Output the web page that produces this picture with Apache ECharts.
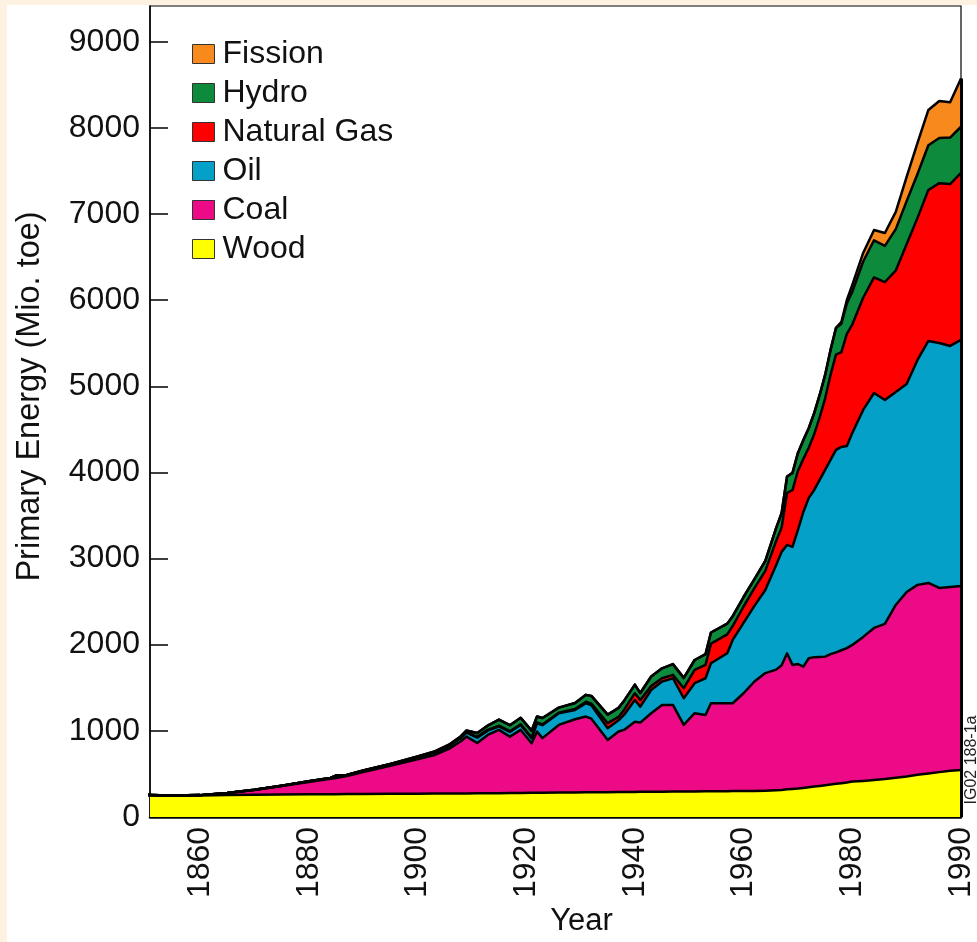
<!DOCTYPE html>
<html>
<head>
<meta charset="utf-8">
<title>Primary Energy</title>
<script src="https://cdn.jsdelivr.net/npm/echarts@6/dist/echarts.min.js"></script>
<style>
  html, body { margin: 0; padding: 0; background: #ffffff; }
  #chart { width: 977px; height: 942px; }
</style>
</head>
<body>
<div id="chart"></div>
<script>
// World primary energy by source, Mio. toe
const years = [1850,1855,1860,1865,1870,1875,1880,1884,1885,1887,
  1890,1895,1900,1903,1906,1908,1909,1911,1913,1915,
  1917,1919,1921,1922,1923,1926,1929,1931,1932,1935,
  1937,1938,1940,1941,1943,1945,1947,1949,1951,1953,
  1954,1957,1958,1960,1962,1964,1966,1967,1968,1969,
  1970,1971,1972,1973,1974,1975,1976,1977,1978,1979,
  1980,1981,1982,1983,1984,1985,1986,1987,1988,1989,1990];

const wood = [255,250,250,255,258,260,262,263,264,265,
  266,268,270,271,272,273,273,274,275,276,
  277,278,280,280,281,282,284,285,286,287,
  288,289,290,291,292,293,294,295,296,297,
  298,299,300,300,302,305,310,312,320,325,
  330,337,345,352,360,368,376,384,392,400,
  410,418,428,440,455,470,490,505,520,535,545];

const coal = [0,0,3,22,55,98,144,180,188,210,
  256,325,400,445,525,605,659,585,680,734,
  655,732,575,710,634,786,850,880,855,607,
  703,721,816,804,912,1007,1006,773,908,887,
  1022,1021,1020,1136,1270,1365,1400,1448,1580,1440,
  1445,1408,1497,1503,1498,1493,1514,1526,1543,1560,
  1587,1672,1766,1801,2006,2142,2204,2212,2139,2135,2137];

const oil = [0,0,0,0,2,4,8,10,28,12,
  14,18,22,28,32,38,47,62,50,40,
  55,58,59,98,150,136,108,156,154,136,
  130,174,252,185,270,271,310,310,348,426,
  464,580,735,816,878,965,1216,1317,1258,1370,
  1557,1796,1862,1941,2055,2168,2255,2351,2361,2347,
  2461,2635,2728,2600,2473,2415,2612,2809,2844,2798,2856];

const gas = [0,0,0,0,0,0,0,0,0,0,
  0,1,3,4,5,6,6,8,8,10,
  8,8,8,8,8,5,10,16,20,58,
  40,58,78,78,46,39,39,116,155,155,
  227,219,161,191,206,222,279,282,604,659,
  684,616,582,649,726,828,987,1106,1101,1300,
  1259,1303,1343,1369,1410,1623,1649,1752,1855,1880,1940];

const hydro = [0,0,0,0,0,0,0,0,0,0,
  2,4,6,8,12,15,18,45,50,70,
  70,75,80,70,75,60,70,80,90,100,
  105,105,100,80,110,115,125,120,115,125,
  130,125,115,110,105,115,150,170,190,200,
  210,220,230,245,260,275,290,310,330,355,
  380,420,430,420,480,500,510,520,525,540,535];

const fission = [0,0,0,0,0,0,0,0,0,0,
  0,0,0,0,0,0,0,0,0,0,
  0,0,0,0,0,0,0,0,0,0,
  0,0,0,0,0,0,0,0,0,0,
  0,0,0,0,0,0,0,0,0,0,
  0,0,0,0,0,0,0,0,20,40,
  80,100,120,150,200,280,360,410,430,410,560];

const xTickYears = [1860,1880,1900,1920,1940,1960,1980,1990];
const yTicks = [0,1000,2000,3000,4000,5000,6000,7000,8000,9000];

// bottom to top
const layers = [
  { name: 'Wood',        values: wood,    color: '#ffff00' },
  { name: 'Coal',        values: coal,    color: '#ec0a86' },
  { name: 'Oil',         values: oil,     color: '#05a0c8' },
  { name: 'Natural Gas', values: gas,     color: '#ff0000' },
  { name: 'Hydro',       values: hydro,   color: '#0e8a3c' },
  { name: 'Fission',     values: fission, color: '#f8891d' }
];

// The time axis runs evenly to 1980; the final decade is drawn at double width.
const pos = y => (y <= 1980 ? y : 1980 + 2 * (y - 1980));
const yearAt = p => (p <= 1980 ? p : 1980 + (p - 1980) / 2);

// running totals: upper edge of each band
const tops = [];
layers.forEach((l, k) => {
  tops.push(l.values.map((v, i) => v + (k ? tops[k - 1][i] : 0)));
});

const xTickPos = xTickYears.map(pos);
const lastIdx = years.length - 1;
const endTotal = tops[tops.length - 1][lastIdx];

const FONT = "'Liberation Sans', Arial, Helvetica, sans-serif";

// Each band is filled down to zero; upper bands are painted first so the
// lower ones cover them and only the band itself stays visible.
const fills = layers.map((l, k) => ({
  name: l.name,
  type: 'line',
  data: years.map((y, i) => [pos(y), tops[k][i]]),
  symbol: 'none',
  showSymbol: false,
  color: l.color,
  itemStyle: { color: l.color },
  lineStyle: { width: 0 },
  areaStyle: { color: l.color, opacity: 1, origin: 'start' },
  z: 2,
  silent: true
})).reverse();

const edges = layers.map((l, k) => ({
  name: l.name + ' border',
  type: 'line',
  data: years.map((y, i) => [pos(y), tops[k][i]]),
  symbol: 'none',
  showSymbol: false,
  lineStyle: { color: '#000', width: 2.5, join: 'round' },
  z: 3,
  silent: true,
  markLine: k === layers.length - 1 ? {
    silent: true,
    symbol: ['none', 'none'],
    label: { show: false },
    lineStyle: { color: '#000', width: 3, type: 'solid' },
    data: [[{ coord: [pos(1990), 0] }, { coord: [pos(1990), endTotal] }]]
  } : undefined
}));

const chart = echarts.init(document.getElementById('chart'), null, { renderer: 'canvas' });

chart.setOption({
  backgroundColor: '#ffffff',
  animation: false,
  textStyle: { fontFamily: FONT },
  grid: {
    left: 150, right: 15.5, top: 6, bottom: 125,
    show: true, borderColor: '#000', borderWidth: 1.2, backgroundColor: 'transparent'
  },
  legend: {
    orient: 'vertical',
    left: 192, top: 38,
    padding: 0,
    icon: 'rect',
    itemWidth: 22, itemHeight: 19,
    itemGap: 7,
    itemStyle: { borderColor: '#333', borderWidth: 1 },
    textStyle: { fontFamily: FONT, fontSize: 32, color: '#111', lineHeight: 32, padding: [0, 0, 0, 3] },
    data: ['Fission', 'Hydro', 'Natural Gas', 'Oil', 'Coal', 'Wood'],
    selectedMode: false
  },
  xAxis: {
    type: 'value',
    min: 1850.8,
    max: pos(1990),
    name: 'Year',
    nameLocation: 'middle',
    nameGap: 86,
    nameTextStyle: { fontFamily: FONT, fontSize: 31, color: '#111', padding: [0, 0, 0, 52] },
    axisLine: { show: true, onZero: false, lineStyle: { color: '#000', width: 2.5 } },
    axisTick: { show: true, inside: true, length: 16, customValues: xTickPos, lineStyle: { color: '#000', width: 1.5 } },
    axisLabel: {
      customValues: xTickPos,
      rotate: 90,
      margin: 10,
      fontFamily: FONT, fontSize: 32, color: '#111',
      formatter: v => String(Math.round(yearAt(v)))
    },
    splitLine: { show: false }
  },
  yAxis: {
    type: 'value',
    min: 0,
    max: 9415,
    name: 'Primary Energy (Mio. toe)',
    nameLocation: 'middle',
    nameGap: 103,
    nameTextStyle: { fontFamily: FONT, fontSize: 32.5, color: '#111', padding: [0, 0, 0, 30] },
    axisLine: { show: true, lineStyle: { color: '#000', width: 1.5 } },
    axisTick: { show: true, inside: true, length: 18, customValues: yTicks, lineStyle: { color: '#000', width: 1.5 } },
    axisLabel: {
      customValues: yTicks, margin: 10, fontFamily: FONT, fontSize: 32, color: '#111',
      formatter: v => String(v)
    },
    splitLine: { show: false }
  },
  graphic: [
    { type: 'rect', left: 0, top: 0, shape: { width: 7, height: 942 }, style: { fill: '#fdf2e2' }, silent: true, z: -10 },
    { type: 'rect', left: 0, top: 0, shape: { width: 977, height: 5 }, style: { fill: '#fdf2e2' }, silent: true, z: -10 },
    {
      type: 'text', x: 972, y: 760, rotation: Math.PI / 2,
      style: { text: 'IG02 188-1a', fill: '#222', font: '16px ' + FONT, align: 'center', verticalAlign: 'middle' },
      silent: true
    }
  ],
  series: fills.concat(edges)
});
</script>
</body>
</html>
